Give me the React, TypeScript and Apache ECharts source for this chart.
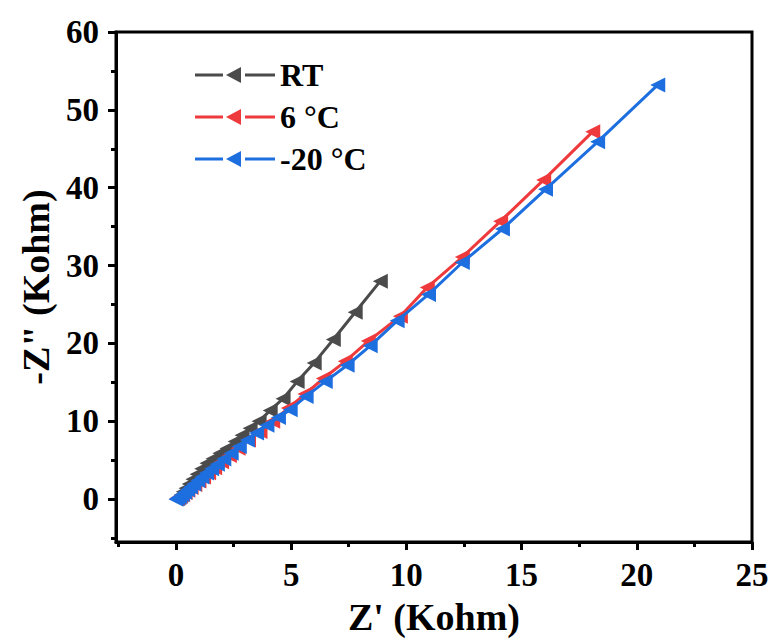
import React, { useEffect, useRef } from 'react';
import * as echarts from 'echarts';

// RT series
const rtX = [0.06, 0.13, 0.22, 0.32, 0.44, 0.58, 0.74, 0.92, 1.12, 1.35, 1.61, 1.91, 2.22, 2.57, 2.87, 3.22, 3.61, 4.09, 4.65, 5.26, 6.0, 6.83, 7.78, 8.87];
const rtY = [0.08, 0.25, 0.55, 0.95, 1.4, 1.95, 2.55, 3.2, 3.9, 4.6, 5.2, 5.9, 6.5, 7.4, 8.2, 9.1, 10.0, 11.4, 12.9, 15.1, 17.5, 20.5, 24.0, 28.0];

// 6 °C series
const c6X = [0.03, 0.1, 0.19, 0.29, 0.4, 0.52, 0.66, 0.82, 1.0, 1.2, 1.42, 1.68, 1.98, 2.32, 2.7, 3.15, 3.65, 4.2, 4.88, 5.6, 6.4, 7.35, 8.35, 9.74, 10.91, 12.43, 14.09, 15.96, 18.09];
const c6Y = [0.05, 0.18, 0.37, 0.6, 0.85, 1.15, 1.5, 1.9, 2.35, 2.85, 3.4, 4.05, 4.8, 5.6, 6.55, 7.6, 8.7, 10.0, 11.7, 13.5, 15.5, 17.7, 20.3, 23.5, 27.2, 31.1, 35.7, 41.0, 47.2];

// -20 °C series
const m20X = [0.0, 0.08, 0.17, 0.27, 0.38, 0.5, 0.63, 0.78, 0.95, 1.13, 1.33, 1.55, 1.8, 2.08, 2.4, 2.75, 3.1, 3.5, 3.95, 4.45, 4.96, 5.65, 6.48, 7.43, 8.43, 9.6, 10.96, 12.43, 14.17, 16.04, 18.3, 20.91];
const m20Y = [0.0, 0.15, 0.35, 0.6, 0.9, 1.2, 1.55, 1.95, 2.4, 2.85, 3.35, 3.9, 4.5, 5.15, 5.9, 6.75, 7.6, 8.5, 9.5, 10.5, 11.5, 13.2, 15.1, 17.2, 19.7, 22.9, 26.3, 30.4, 34.7, 39.8, 45.9, 53.2];

const seriesNames = ['RT', '6 °C', '-20 °C'];
const seriesColors = ['#4b4b4b', '#ee3a3c', '#1d6fe0'];

const xMajorTicks = [0, 5, 10, 15, 20, 25];
const xMinorTicks = [-2.5, 2.5, 7.5, 12.5, 17.5, 22.5];
const yMajorTicks = [0, 10, 20, 30, 40, 50, 60];
const yMinorTicks = [-5, 5, 15, 25, 35, 45, 55];

const FONT = "'Times New Roman', 'Liberation Serif', serif";
// legend icon: line – left-pointing triangle – line
const LEGEND_ICON = 'path://M0,7.5H28V10.5H0Z M31,9L46,1V17Z M50,7.5H80V10.5H50Z';

function pairs(xs: number[], ys: number[]) {
  return xs.map((x, i) => [x, ys[i]]);
}

export default function App() {
  const ref = useRef<HTMLDivElement>(null);
  useEffect(() => {
    if (!ref.current) return;
    const chart = echarts.init(ref.current, undefined, { renderer: 'svg' });
    const labelStyle = { fontFamily: FONT, fontWeight: 'bold' as const, fontSize: 33, color: '#000' };
    const nameStyle = { fontFamily: FONT, fontWeight: 'bold' as const, fontSize: 38, color: '#000' };
    const datasets = [pairs(rtX, rtY), pairs(c6X, c6Y), pairs(m20X, m20Y)];
    chart.setOption({
      animation: false,
      backgroundColor: '#fff',
      grid: {
        left: 116, right: 25, top: 32, bottom: 97,
        show: true, borderColor: '#000', borderWidth: 3, backgroundColor: 'transparent',
      },
      legend: {
        data: seriesNames.map((n) => ({ name: n, icon: LEGEND_ICON })),
        orient: 'vertical',
        left: 190,
        top: 53,
        itemWidth: 80,
        itemHeight: 18,
        itemGap: 8,
        textStyle: { ...labelStyle, fontSize: 32, lineHeight: 34 },
      },
      xAxis: [
        {
          type: 'value', min: -2.6, max: 25, position: 'bottom',
          splitLine: { show: false },
          axisLine: { show: true, onZero: false, lineStyle: { color: '#000', width: 3 } },
          axisTick: { show: true, inside: false, length: 8, customValues: xMajorTicks, lineStyle: { color: '#000', width: 3 } },
          axisLabel: { show: true, customValues: xMajorTicks, margin: 16, ...labelStyle },
          name: "Z' (Kohm)", nameLocation: 'middle', nameGap: 56,
          nameTextStyle: nameStyle,
        },
        {
          type: 'value', min: -2.6, max: 25, position: 'bottom',
          splitLine: { show: false },
          axisLine: { show: false, onZero: false },
          axisTick: { show: true, inside: false, length: 5, customValues: xMinorTicks, lineStyle: { color: '#000', width: 3 } },
          axisLabel: { show: false },
        },
      ],
      yAxis: [
        {
          type: 'value', min: -5.5, max: 60, position: 'left',
          splitLine: { show: false },
          axisLine: { show: true, onZero: false, lineStyle: { color: '#000', width: 3 } },
          axisTick: { show: true, inside: false, length: 8, customValues: yMajorTicks, lineStyle: { color: '#000', width: 3 } },
          axisLabel: { show: true, customValues: yMajorTicks, margin: 17, ...labelStyle },
          name: '-Z" (Kohm)', nameLocation: 'middle', nameGap: 54, nameRotate: 90,
          nameTextStyle: nameStyle,
        },
        {
          type: 'value', min: -5.5, max: 60, position: 'left',
          splitLine: { show: false },
          axisLine: { show: false, onZero: false },
          axisTick: { show: true, inside: false, length: 5, customValues: yMinorTicks, lineStyle: { color: '#000', width: 3 } },
          axisLabel: { show: false },
        },
      ],
      series: seriesNames.map((name, i) => ({
        name,
        type: 'line',
        xAxisIndex: 0,
        yAxisIndex: 0,
        data: datasets[i],
        symbol: 'triangle',
        symbolRotate: 90,
        symbolSize: 15,
        showSymbol: true,
        color: seriesColors[i],
        lineStyle: { color: seriesColors[i], width: 3 },
        itemStyle: { color: seriesColors[i] },
        z: 2 + i,
      })),
    });
    return () => chart.dispose();
  }, []);
  return (
    <div
      ref={ref}
      style={{ position: 'fixed', left: 0, top: 0, width: 777, height: 641, background: '#fff' }}
    />
  );
}
